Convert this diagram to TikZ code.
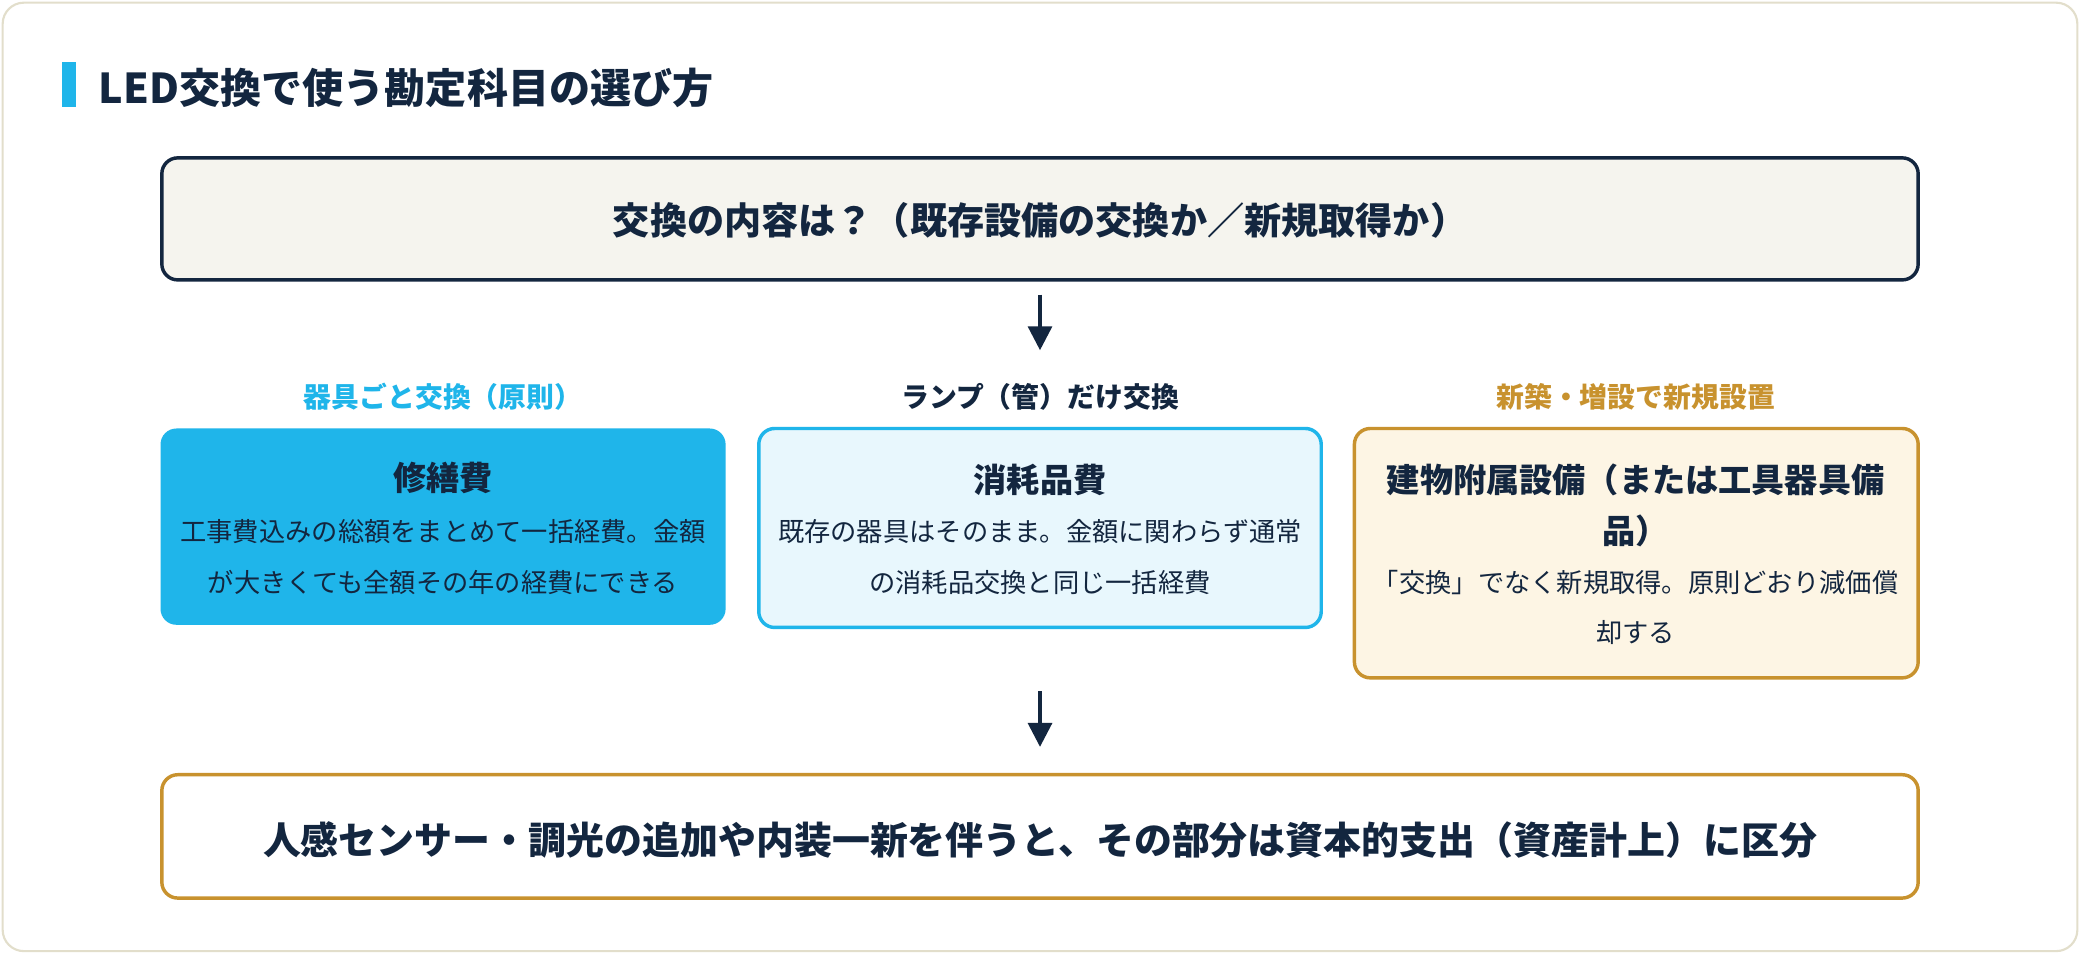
\documentclass[tikz,border=0pt]{standalone}
\usepackage{fontspec}
\usetikzlibrary{arrows.meta}
\setmainfont{Noto Sans CJK JP}
\definecolor{navy}{HTML}{13263F}
\definecolor{sky}{HTML}{1FB5EA}
\definecolor{skyl}{HTML}{E8F7FD}
\definecolor{gold}{HTML}{C8922E}
\definecolor{goldl}{HTML}{FDF5E4}
\definecolor{cream}{HTML}{F5F4EE}
\definecolor{edge}{HTML}{E2DECB}
\begin{document}
\begin{tikzpicture}[x=0.5pt,y=-0.5pt,
  box/.style={rounded corners=6pt,line width=1.3pt},
  arr/.style={draw=navy,line width=1.3pt,-{Triangle[length=9pt,width=9pt]}},
  lab/.style={font=\fontsize{10.5}{12}\selectfont\bfseries},
  ttl/.style={font=\fontsize{12.5}{19}\selectfont\bfseries,text=navy},
  body/.style={font=\fontsize{9.9}{19}\selectfont,align=center}]
\useasboundingbox (0,0) rectangle (1568,719);
\draw[edge,fill=white,line width=0.8pt,rounded corners=8pt] (2,2) rectangle (1566,717);
\fill[sky] (47,47) rectangle (57,81);
\node[anchor=west,inner sep=0pt,font=\fontsize{15.5}{18}\selectfont\bfseries,text=navy] (title) at (74,66) {LED交換で使う勘定科目の選び方};
\draw[box,draw=navy,fill=cream] (122,119) rectangle (1446,211);
\node[font=\fontsize{14}{17}\selectfont\bfseries,text=navy] (top) at (784,166) {交換の内容は？（既存設備の交換か／新規取得か）};
\coordinate (a1) at (784,222); \coordinate (a2) at (784,264);
\draw[arr] (a1) -- (a2);
\node[lab,text=sky] (l1) at (334,299) {器具ごと交換（原則）};
\node[lab,text=navy] (l2) at (784,299) {ランプ（管）だけ交換};
\node[lab,text=gold] (l3) at (1233,299) {新築・増設で新規設置};
\fill[sky,rounded corners=6pt] (121,323) rectangle (547,471);
\node[ttl] (t1) at (334,360) {修繕費};
\node[body,text=navy] (b1) at (334,420) {工事費込みの総額をまとめて一括経費。金額\\が大きくても全額その年の経費にできる};
\draw[box,draw=sky,fill=skyl] (572,323) rectangle (996,473);
\node[ttl] (t2) at (784,362) {消耗品費};
\node[body,text=navy] (b2) at (784,420) {既存の器具はそのまま。金額に関わらず通常\\の消耗品交換と同じ一括経費};
\draw[box,draw=gold,fill=goldl] (1021,323) rectangle (1446,511);
\node[ttl,align=center] (t3) at (1233,381) {建物附属設備（または工具器具備\\品）};
\node[body,text=navy] (b3) at (1233,458) {「交換」でなく新規取得。原則どおり減価償\\却する};
\coordinate (c1) at (784,521); \coordinate (c2) at (784,563);
\draw[arr] (c1) -- (c2);
\draw[box,draw=gold,fill=white] (122,584) rectangle (1446,677);
\node[font=\fontsize{14.3}{18}\selectfont\bfseries,text=navy] (bot) at (784,633) {人感センサー・調光の追加や内装一新を伴うと、その部分は資本的支出（資産計上）に区分};
\end{tikzpicture}
\end{document}
